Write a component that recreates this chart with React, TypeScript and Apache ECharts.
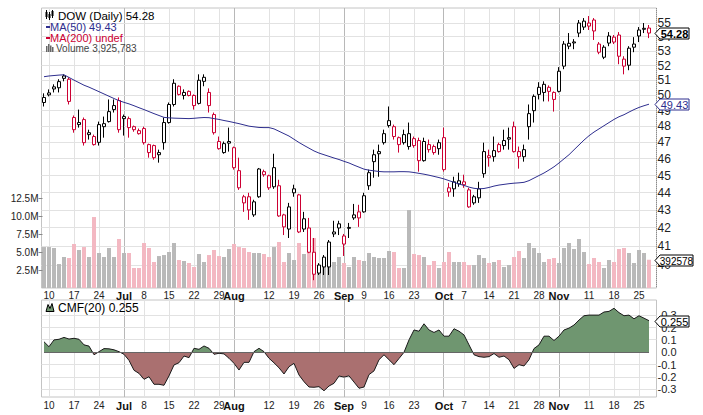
import React, { useEffect, useRef } from 'react';
import * as echarts from 'echarts';

const HOLIDAYS = ['2019-07-04', '2019-09-02'];
function tradingDays(start: string, end: string, holidays: string[]): string[] {
  const out: string[] = [];
  const d = new Date(start + 'T00:00:00Z');
  const e = new Date(end + 'T00:00:00Z');
  while (d <= e) {
    const wd = d.getUTCDay();
    const s = d.toISOString().slice(0, 10);
    if (wd !== 0 && wd !== 6 && holidays.indexOf(s) < 0) out.push(s);
    d.setUTCDate(d.getUTCDate() + 1);
  }
  return out;
}
const dates = tradingDays('2019-06-07', '2019-11-27', HOLIDAYS);

const opens = [
  49.54, 50.17, 50.57, 50.51, 51.14, 51.08, 48.57, 48.25, 48.44, 47.61,
  47.37, 47.01, 47.99, 48.31, 49.08, 49.67, 48.50, 48.50, 47.99, 47.55,
  47.87, 46.87, 46.81, 46.38, 46.99, 48.25, 49.41, 50.61, 50.00, 50.27,
  50.00, 49.48, 50.94, 50.20, 48.76, 47.06, 46.38, 47.06, 46.68, 45.29,
  43.76, 43.76, 42.73, 43.76, 45.05, 44.99, 44.34, 44.40, 42.73, 41.94,
  43.99, 43.87, 42.51, 42.00, 40.68, 40.00, 39.90, 39.90, 41.78, 42.23,
  41.56, 42.03, 42.56, 42.90, 42.90, 44.40, 45.83, 46.44, 46.99, 48.06,
  47.99, 47.30, 47.49, 46.75, 46.81, 47.12, 45.89, 46.87, 46.75, 46.62,
  47.30, 44.04, 44.22, 44.51, 44.63, 44.16, 43.76, 43.70, 45.11, 46.07,
  46.13, 46.87, 46.81, 47.30, 47.99, 46.44, 46.13, 47.99, 49.01, 50.07,
  50.20, 50.54, 50.20, 50.27, 51.97, 53.35, 53.65, 54.28, 54.71, 54.78,
  55.22, 53.50, 52.58, 53.57, 53.99, 54.14, 52.45, 52.03, 53.28, 54.07,
  54.62, 54.64,
];
const highs = [
  50.14, 50.40, 50.74, 51.08, 51.41, 51.21, 48.70, 49.08, 48.57, 47.80,
  47.49, 48.31, 48.63, 49.74, 49.74, 49.87, 48.76, 48.63, 48.06, 47.87,
  47.99, 46.93, 46.87, 46.56, 48.57, 49.54, 51.08, 50.67, 50.40, 50.33,
  50.07, 51.41, 51.41, 50.47, 48.89, 47.37, 47.06, 47.93, 46.75, 46.07,
  43.87, 43.99, 43.59, 45.45, 45.35, 45.05, 46.31, 44.75, 42.79, 43.41,
  44.46, 43.93, 42.90, 42.56, 41.45, 40.10, 40.53, 41.34, 42.40, 42.40,
  41.67, 42.28, 43.35, 43.30, 43.99, 45.35, 46.56, 46.87, 47.80, 49.28,
  48.12, 47.37, 47.80, 48.25, 47.37, 47.30, 47.30, 47.18, 46.87, 47.18,
  47.93, 44.57, 44.93, 45.17, 45.05, 44.28, 43.87, 44.63, 46.99, 46.56,
  47.37, 46.99, 47.80, 47.93, 48.31, 46.75, 46.87, 49.41, 50.07, 50.88,
  50.94, 50.67, 50.27, 51.90, 53.71, 54.28, 53.85, 55.22, 55.36, 55.51,
  55.36, 53.64, 53.42, 54.35, 54.14, 54.35, 52.65, 53.35, 53.99, 54.71,
  55.00, 54.86,
];
const lows = [
  49.28, 49.94, 50.20, 50.20, 50.94, 49.41, 47.61, 47.93, 46.81, 47.18,
  46.81, 46.81, 47.30, 48.25, 48.89, 47.61, 47.43, 47.30, 47.67, 47.49,
  46.87, 46.07, 45.95, 45.77, 46.56, 48.18, 49.28, 50.00, 49.74, 49.94,
  49.08, 49.41, 50.61, 48.89, 47.49, 46.56, 46.31, 46.44, 45.35, 44.16,
  42.90, 42.45, 42.62, 43.70, 44.93, 44.16, 44.22, 42.62, 41.61, 41.45,
  43.76, 41.72, 41.78, 40.63, 39.21, 39.48, 39.48, 39.48, 41.50, 41.61,
  40.48, 41.45, 42.45, 42.06, 42.85, 44.16, 44.87, 44.93, 46.87, 47.93,
  47.18, 46.38, 46.87, 46.56, 46.68, 45.23, 45.83, 46.38, 46.25, 46.25,
  45.23, 43.76, 43.76, 44.34, 44.28, 43.13, 43.30, 43.41, 44.87, 45.53,
  45.83, 46.38, 46.56, 46.56, 46.38, 45.41, 45.83, 47.18, 48.25, 49.74,
  49.61, 49.61, 48.95, 50.20, 51.76, 53.14, 53.14, 53.99, 54.50, 54.50,
  53.79, 52.79, 52.45, 53.35, 53.50, 52.10, 51.41, 51.69, 52.93, 53.64,
  54.28, 53.92,
];
const closes = [
  49.87, 50.04, 50.43, 50.92, 51.30, 49.61, 47.80, 48.12, 46.99, 47.49,
  46.87, 48.12, 48.18, 48.95, 49.34, 47.80, 48.63, 47.93, 47.80, 47.74,
  46.99, 46.38, 46.07, 46.25, 48.25, 49.41, 50.81, 50.07, 50.20, 50.00,
  49.34, 51.01, 51.21, 49.34, 47.61, 46.62, 46.93, 46.96, 45.47, 44.28,
  43.41, 43.01, 43.47, 45.39, 45.23, 44.28, 45.47, 42.67, 42.06, 43.18,
  44.22, 41.78, 41.94, 40.68, 39.52, 39.58, 40.42, 41.23, 41.67, 42.00,
  41.12, 41.98, 42.73, 42.56, 43.82, 45.17, 46.25, 46.31, 47.55, 48.37,
  47.37, 46.87, 46.99, 47.55, 47.24, 45.89, 47.06, 46.56, 46.38, 46.99,
  45.35, 44.28, 44.63, 44.69, 44.46, 43.18, 43.41, 44.22, 46.44, 46.19,
  46.50, 46.44, 47.12, 47.21, 46.44, 46.13, 46.56, 48.82, 49.94, 50.54,
  50.74, 50.27, 49.74, 51.62, 53.50, 53.55, 53.58, 55.00, 55.14, 55.00,
  54.43, 52.93, 53.28, 54.07, 53.64, 52.65, 51.97, 53.21, 53.50, 54.50,
  54.55, 54.28,
];
// volume in millions of shares
const volumesM = [
  5.69, 5.69, 5.56, 3.33, 4.31, 4.17, 6.11, 5.28, 5.69, 4.31,
  9.86, 4.86, 4.31, 5.56, 4.31, 6.81, 4.86, 4.86, 2.78, 2.78,
  6.25, 5.56, 3.61, 4.44, 4.58, 5.00, 6.25, 3.89, 3.75, 3.47,
  2.92, 4.72, 3.61, 4.58, 5.28, 4.44, 4.31, 5.42, 6.11, 5.69,
  5.56, 5.00, 4.86, 4.86, 4.72, 4.31, 5.69, 6.39, 3.61, 4.86,
  3.89, 6.25, 4.72, 5.56, 6.94, 3.19, 3.47, 3.47, 3.61, 4.31,
  3.47, 2.92, 4.31, 3.89, 3.75, 4.86, 4.31, 4.17, 4.17, 5.14,
  5.00, 2.78, 2.78, 10.83, 4.72, 4.58, 4.31, 3.19, 3.75, 2.78,
  3.61, 5.00, 3.61, 3.61, 3.61, 3.19, 3.19, 4.58, 4.17, 3.47,
  3.61, 3.89, 2.92, 3.19, 4.31, 5.14, 4.17, 6.25, 5.56, 4.86,
  3.61, 4.03, 4.17, 3.47, 5.56, 6.25, 5.42, 6.81, 5.00, 3.33,
  4.17, 3.61, 2.78, 3.89, 3.61, 5.42, 5.56, 4.86, 3.47, 5.28,
  4.86, 3.925783,
];
const ma50 = [
  51.25, 51.30, 51.33, 51.36, 51.38, 51.20, 51.02, 50.85, 50.68, 50.55,
  50.40, 50.25, 50.10, 49.95, 49.80, 49.66, 49.55, 49.45, 49.33, 49.20,
  49.08, 48.95, 48.82, 48.70, 48.58, 48.55, 48.53, 48.52, 48.51, 48.50,
  48.52, 48.55, 48.57, 48.56, 48.50, 48.45, 48.38, 48.32, 48.25, 48.18,
  48.10, 48.02, 47.98, 47.94, 47.93, 47.93, 47.85, 47.70, 47.55, 47.40,
  47.20, 47.00, 46.82, 46.65, 46.48, 46.35, 46.25, 46.15, 46.05, 45.96,
  45.85, 45.75, 45.62, 45.50, 45.38, 45.32, 45.28, 45.24, 45.22, 45.22,
  45.22, 45.23, 45.23, 45.22, 45.18, 45.13, 45.08, 45.02, 44.95, 44.88,
  44.80, 44.70, 44.60, 44.50, 44.42, 44.32, 44.25, 44.22, 44.24, 44.30,
  44.38, 44.44, 44.48, 44.52, 44.55, 44.57, 44.60, 44.70, 44.85, 45.00,
  45.15, 45.33, 45.52, 45.75, 46.00, 46.25, 46.55, 46.85, 47.15, 47.42,
  47.65, 47.85, 48.05, 48.25, 48.45, 48.62, 48.75, 48.92, 49.08, 49.22,
  49.33, 49.43,
];
const cmf20 = [
  0.085, 0.045, 0.100, 0.105, 0.120, 0.107, 0.113, 0.105, 0.060, 0.050,
  -0.020, 0.005, 0.030, 0.028, 0.020, 0.005, -0.016, -0.065, -0.145, -0.170,
  -0.218, -0.197, -0.258, -0.258, -0.266, -0.190, -0.102, -0.084, -0.030, -0.043,
  0.032, 0.024, 0.051, 0.032, -0.016, -0.008, -0.013, -0.048, -0.089, -0.143,
  -0.081, -0.081, 0.005, 0.032, 0.005, -0.048, -0.085, -0.125, -0.175, -0.116,
  -0.089, -0.183, -0.237, -0.280, -0.282, -0.277, -0.310, -0.272, -0.250, -0.191,
  -0.200, -0.190, -0.240, -0.290, -0.280, -0.180, -0.150, -0.060, -0.020, -0.060,
  -0.100, -0.050, 0.000, 0.100, 0.180, 0.170, 0.230, 0.180, 0.160, 0.180,
  0.130, 0.130, 0.190, 0.170, 0.140, 0.060, -0.020, -0.035, -0.040, -0.035,
  -0.010, -0.040, -0.030, -0.060, -0.130, -0.100, -0.110, -0.060, 0.030, 0.060,
  0.130, 0.130, 0.095, 0.130, 0.180, 0.195, 0.220, 0.260, 0.295, 0.300,
  0.300, 0.300, 0.325, 0.330, 0.355, 0.320, 0.295, 0.300, 0.270, 0.295,
  0.275, 0.255,
];
const priceTicks = [40, 41, 42, 43, 44, 45, 46, 47, 48, 49, 50, 51, 52, 53, 54, 55];
const volumeTicksM = [2.5, 5, 7.5, 10, 12.5];
const cmfTicks = [-0.3, -0.2, -0.1, 0, 0.1, 0.2, 0.3];
// [date, label, isMonth]
const xTicks: [string, string, boolean][] = [
  ['2019-06-10', '10', false], ['2019-06-17', '17', false], ['2019-06-24', '24', false],
  ['2019-07-01', 'Jul', true], ['2019-07-08', '8', false], ['2019-07-15', '15', false],
  ['2019-07-22', '22', false], ['2019-07-29', '29', false], ['2019-08-01', 'Aug', true],
  ['2019-08-12', '12', false], ['2019-08-19', '19', false], ['2019-08-26', '26', false],
  ['2019-09-03', 'Sep', true], ['2019-09-09', '9', false], ['2019-09-16', '16', false],
  ['2019-09-23', '23', false], ['2019-10-01', 'Oct', true], ['2019-10-07', '7', false],
  ['2019-10-14', '14', false], ['2019-10-21', '21', false], ['2019-10-28', '28', false],
  ['2019-11-01', 'Nov', true], ['2019-11-11', '11', false], ['2019-11-18', '18', false],
  ['2019-11-25', '25', false],
];

const FONT = '"Liberation Sans", Arial, Helvetica, sans-serif';
const RED = '#cc0033';
const NAVY = '#2e2e8e';
const GRID_LIGHT = '#e2e2e2';
const GRID_MONTH = '#b8b8b8';

const crisp = (v: number) => Math.round(v - 0.5) + 0.5;

function buildOption(): any {
  const n = dates.length;
  const last = n - 1;
  const categories = [...dates, ''];
  const tickInfo: Record<string, { label: string; month: boolean }> = {};
  xTicks.forEach(([d, l, m]) => { tickInfo[d] = { label: l, month: m }; });

  const candleData = dates.map((_, i) => {
    const prev = i > 0 ? closes[i - 1] : opens[i];
    const col = closes[i] >= prev ? '#000000' : RED;
    return {
      value: [opens[i], closes[i], lows[i], highs[i]],
      itemStyle: { color: '#ffffff', color0: col, borderColor: col, borderColor0: col, borderWidth: 1 },
    };
  });
  const volData = volumesM.map((v, i) => {
    const up = i === 0 || closes[i] >= closes[i - 1];
    return { value: v, itemStyle: { color: up ? '#b9b9b9' : '#f3b8c2' } };
  });

  const xAxisBase = (gridIndex: number, margin: number) => ({
    type: 'category',
    gridIndex,
    data: categories,
    boundaryGap: true,
    axisLine: { show: false },
    axisTick: { show: false },
    splitLine: { show: false },
    axisLabel: {
      interval: (_idx: number, val: string) => !!tickInfo[val],
      formatter: (val: string) => {
        const t = tickInfo[val];
        if (!t) return '';
        return t.month ? `{m|${t.label}}` : `{d|${t.label}}`;
      },
      margin,
      rich: {
        m: { fontFamily: FONT, fontSize: 11, fontWeight: 'bold', color: '#111' },
        d: { fontFamily: FONT, fontSize: 10, color: '#222' },
      },
    },
  });

  const vGrid = (xAxisIndex: number, yAxisIndex: number, yRef: number) => ({
    type: 'custom', xAxisIndex, yAxisIndex, z: 1, silent: true, clip: false,
    data: xTicks.map(([d, , m]) => [dates.indexOf(d), yRef, m ? 1 : 0]),
    encode: { x: 0, y: 1 },
    renderItem: (params: any, api: any) => {
      const cs = params.coordSys;
      const x = crisp(api.coord([api.value(0), api.value(1)])[0]);
      return {
        type: 'line',
        shape: { x1: x, y1: cs.y, x2: x, y2: cs.y + cs.height },
        style: { stroke: api.value(2) ? GRID_MONTH : GRID_LIGHT, lineWidth: 1 },
      };
    },
  });
  const hGrid = (xAxisIndex: number, yAxisIndex: number, values: number[], color: string) => ({
    type: 'custom', xAxisIndex, yAxisIndex, z: 1, silent: true, clip: false,
    data: values.map((v) => [0, v]),
    encode: { x: 0, y: 1 },
    renderItem: (params: any, api: any) => {
      const cs = params.coordSys;
      const y = crisp(api.coord([api.value(0), api.value(1)])[1]);
      return {
        type: 'line',
        shape: { x1: cs.x, y1: y, x2: cs.x + cs.width, y2: y },
        style: { stroke: color, lineWidth: 1 },
      };
    },
  });
  const tagSeries = (xAxisIndex: number, yAxisIndex: number, value: number, text: string, color: string, w: number, fontSize: number, bold: boolean) => ({
    type: 'custom', xAxisIndex, yAxisIndex, z: 30, silent: true, clip: false,
    data: [[last, value]],
    encode: { x: 0, y: 1 },
    renderItem: (params: any, api: any) => {
      const cs = params.coordSys;
      const yv = api.coord([api.value(0), api.value(1)])[1];
      const y = Math.round(yv) + 0.5;
      const left = cs.x + cs.width - 1.5;
      const h = 5.5;
      return {
        type: 'group',
        children: [
          {
            type: 'polygon',
            shape: { points: [[left, y], [left + 5, y - h], [left + w, y - h], [left + w, y + h], [left + 5, y + h]] },
            style: { fill: '#ffffff', stroke: color, lineWidth: 1 },
          },
          {
            type: 'text',
            style: {
              x: left + 5 + (w - 5) / 2, y: y + 0.5, text,
              fill: color, align: 'center', verticalAlign: 'middle',
              font: `${bold ? 'bold ' : ''}${fontSize}px ${FONT}`,
            },
          },
        ],
      };
    },
  });
  const volTicks = {
    type: 'custom', xAxisIndex: 0, yAxisIndex: 1, z: 5, silent: true, clip: false,
    data: volumeTicksM.map((v) => [0, v]),
    encode: { x: 0, y: 1 },
    renderItem: (params: any, api: any) => {
      const cs = params.coordSys;
      const y = crisp(api.coord([api.value(0), api.value(1)])[1]);
      return { type: 'line', shape: { x1: cs.x - 3, y1: y, x2: cs.x + 1, y2: y }, style: { stroke: '#888', lineWidth: 1 } };
    },
  };
  const zeroLine = {
    type: 'custom', xAxisIndex: 1, yAxisIndex: 2, z: 4, silent: true, clip: false,
    data: [[0, 0, last]],
    encode: { x: 0, y: 1 },
    renderItem: (_params: any, api: any) => {
      const p0 = api.coord([api.value(0), api.value(1)]);
      const p1 = api.coord([api.value(2), api.value(1)]);
      const y = crisp(p0[1]);
      return { type: 'line', shape: { x1: p0[0], y1: y, x2: p1[0], y2: y }, style: { stroke: '#666', lineWidth: 1 } };
    },
  };

  const lastClose = closes[last];
  const lastMA = ma50[last];
  const lastVolShares = Math.round(volumesM[last] * 1e6);
  const lastCMF = cmf20[last];

  const legendFont = (s: number) => `${s}px ${FONT}`;
  const graphic: any[] = [
    { type: 'line', shape: { x1: 656.5, y1: 8, x2: 656.5, y2: 288 }, style: { stroke: '#8a8a8a', lineWidth: 1, lineDash: [1, 1] }, z: 6 },
    { type: 'line', shape: { x1: 46.5, y1: 10, x2: 46.5, y2: 19 }, style: { stroke: '#000', lineWidth: 1 }, z: 20 },
    { type: 'rect', shape: { x: 45.5, y: 12, width: 2, height: 5 }, style: { fill: '#000' }, z: 20 },
    { type: 'line', shape: { x1: 49.5, y1: 12, x2: 49.5, y2: 20 }, style: { stroke: '#000', lineWidth: 1 }, z: 20 },
    { type: 'rect', shape: { x: 48.5, y: 14, width: 2, height: 4 }, style: { fill: '#000' }, z: 20 },
    { type: 'line', shape: { x1: 52.5, y1: 10, x2: 52.5, y2: 18 }, style: { stroke: '#000', lineWidth: 1 }, z: 20 },
    { type: 'rect', shape: { x: 51.5, y: 11, width: 2, height: 5 }, style: { fill: '#000' }, z: 20 },
    { type: 'text', x: 58, y: 15.5, style: { text: `DOW (Daily) ${lastClose.toFixed(2)}`, fill: '#000', font: legendFont(11.5), verticalAlign: 'middle' }, z: 20 },
    { type: 'line', shape: { x1: 46, y1: 27, x2: 50, y2: 27 }, style: { stroke: NAVY, lineWidth: 2 }, z: 20 },
    { type: 'text', x: 50, y: 27, style: { text: `MA(50) ${lastMA.toFixed(2)}`, fill: NAVY, font: legendFont(11), verticalAlign: 'middle' }, z: 20 },
    { type: 'line', shape: { x1: 46, y1: 38, x2: 50, y2: 38 }, style: { stroke: RED, lineWidth: 2 }, z: 20 },
    { type: 'text', x: 50, y: 38, style: { text: 'MA(200) undef', fill: RED, font: legendFont(11), verticalAlign: 'middle' }, z: 20 },
    { type: 'rect', shape: { x: 46, y: 46, width: 1.5, height: 6 }, style: { fill: '#666' }, z: 20 },
    { type: 'rect', shape: { x: 48, y: 44, width: 1.5, height: 8 }, style: { fill: '#666' }, z: 20 },
    { type: 'rect', shape: { x: 50, y: 45.5, width: 1.5, height: 6.5 }, style: { fill: '#666' }, z: 20 },
    { type: 'rect', shape: { x: 52, y: 47, width: 1.5, height: 5 }, style: { fill: '#666' }, z: 20 },
    { type: 'text', x: 56, y: 48.5, style: { text: `Volume ${lastVolShares.toLocaleString('en-US')}`, fill: '#444', font: legendFont(10), verticalAlign: 'middle' }, z: 20 },
    { type: 'polygon', shape: { points: [[46, 311.5], [48, 304.5], [50, 308.5], [52, 303.5], [54, 311.5]] }, style: { fill: '#6f9670', stroke: '#000', lineWidth: 1 }, z: 20 },
    { type: 'text', x: 58, y: 307.5, style: { text: `CMF(20) ${lastCMF.toFixed(3)}`, fill: '#000', font: legendFont(12), verticalAlign: 'middle' }, z: 20 },
  ];

  const series: any[] = [
    vGrid(0, 0, priceTicks[0]),
    hGrid(0, 0, priceTicks, GRID_LIGHT),
    { name: 'Volume', type: 'bar', xAxisIndex: 0, yAxisIndex: 1, data: volData, barWidth: 4, z: 2, silent: true },
    { name: 'DOW', type: 'candlestick', xAxisIndex: 0, yAxisIndex: 0, data: candleData, barWidth: 4, z: 3, silent: true },
    {
      name: 'MA(50)', type: 'line', xAxisIndex: 0, yAxisIndex: 0, data: ma50, z: 4, silent: true,
      symbol: 'none', showSymbol: false, lineStyle: { color: NAVY, width: 1 },
    },
    vGrid(1, 2, 0),
    hGrid(1, 2, cmfTicks.filter((t) => t !== 0), GRID_LIGHT),
    {
      name: 'CMF(20)', type: 'line', xAxisIndex: 1, yAxisIndex: 2, data: cmf20, z: 3, silent: true,
      symbol: 'none', showSymbol: false,
      lineStyle: { color: '#1a1a1a', width: 1 },
      areaStyle: { opacity: 1 },
    },
    zeroLine,
    volTicks,
    tagSeries(0, 1, volumesM[last], String(lastVolShares).slice(0, 6), '#000', 38, 10, false),
    tagSeries(0, 0, lastMA, lastMA.toFixed(2), NAVY, 34, 11, false),
    tagSeries(0, 0, lastClose, lastClose.toFixed(2), '#000', 34, 11, true),
    tagSeries(1, 2, lastCMF, lastCMF.toFixed(3), '#000', 34, 11, false),
  ];
  const cmfIndex = series.findIndex((s) => s.name === 'CMF(20)');

  return {
    animation: false,
    backgroundColor: '#ffffff',
    textStyle: { fontFamily: FONT },
    grid: [
      { left: 41.5, top: 8, width: 615, height: 280, show: true, borderColor: '#c4c4c4', borderWidth: 1, backgroundColor: 'transparent' },
      { left: 41.5, top: 300, width: 615, height: 97, show: true, borderColor: '#c4c4c4', borderWidth: 1, backgroundColor: 'transparent' },
    ],
    xAxis: [xAxisBase(0, 2), xAxisBase(1, 3)],
    yAxis: [
      {
        type: 'log', logBase: 10, gridIndex: 0, position: 'right', min: 38.81, max: 56.1,
        axisLine: { show: false }, axisTick: { show: false }, splitLine: { show: false },
        axisLabel: { customValues: priceTicks, formatter: (v: number) => String(Math.round(v)), margin: 1, fontSize: 12, color: '#222', fontFamily: FONT },
      },
      {
        type: 'value', gridIndex: 0, position: 'left', min: 0, max: 38.9,
        axisLine: { show: false }, splitLine: { show: false }, axisTick: { show: false },
        axisLabel: { customValues: volumeTicksM, formatter: (v: number) => v.toFixed(1) + 'M', margin: 3, fontSize: 10, color: '#222', fontFamily: FONT },
      },
      {
        type: 'value', gridIndex: 1, position: 'right', min: -0.3605, max: 0.4218,
        axisLine: { show: false }, axisTick: { show: false }, splitLine: { show: false },
        axisLabel: { customValues: cmfTicks, formatter: (v: number) => v.toFixed(1), align: 'right', margin: 20, fontSize: 11, color: '#222', fontFamily: FONT },
      },
    ],
    visualMap: [
      {
        type: 'piecewise', show: false, seriesIndex: cmfIndex, dimension: 1,
        pieces: [
          { gt: -10, lte: 0, color: '#aa7070' },
          { gt: 0, lte: 10, color: '#6f9670' },
        ],
      },
    ],
    series,
    graphic,
  };
}

export default function App() {
  const ref = useRef<HTMLDivElement>(null);
  useEffect(() => {
    if (!ref.current) return;
    const chart = echarts.init(ref.current, null, { renderer: 'svg' });
    chart.setOption(buildOption());
    return () => chart.dispose();
  }, []);
  return (
    <div
      ref={ref}
      style={{ position: 'absolute', left: 0, top: 0, width: 703, height: 415, background: '#fff' }}
    />
  );
}
